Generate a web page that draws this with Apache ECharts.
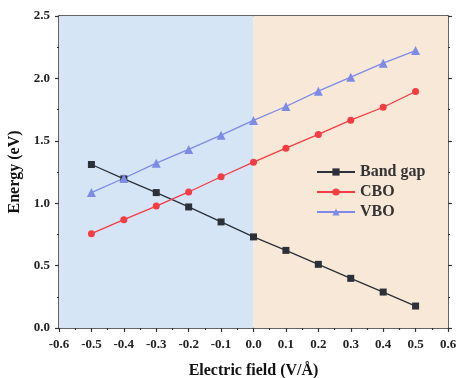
<!DOCTYPE html>
<html>
<head>
<meta charset="utf-8">
<style>
  html, body { margin: 0; padding: 0; background: #fff; }
  #chart { width: 456px; height: 378px; }
</style>
<script src="https://cdn.jsdelivr.net/npm/echarts@6/dist/echarts.min.js"></script>
</head>
<body>
<div id="chart"></div>
<script>
  // electric field values (V/Å)
  var fieldList = [-0.5, -0.4, -0.3, -0.2, -0.1, 0.0, 0.1, 0.2, 0.3, 0.4, 0.5];
  var bandGap = [1.31, 1.195, 1.085, 0.97, 0.85, 0.73, 0.622, 0.51, 0.398, 0.288, 0.176];
  var cbo = [0.756, 0.868, 0.977, 1.09, 1.212, 1.329, 1.441, 1.551, 1.665, 1.769, 1.895];
  var vbo = [1.085, 1.2, 1.321, 1.431, 1.545, 1.663, 1.775, 1.898, 2.01, 2.122, 2.223];

  var font = '"Liberation Serif", "DejaVu Serif", serif';
  var axisColor = '#333';

  function pairs(ys) {
    let arr = [];
    for (let i = 0; i < fieldList.length; i++) {
      arr.push([fieldList[i], ys[i]]);
    }
    return arr;
  }

  var chart = echarts.init(document.getElementById('chart'));
  chart.setOption({
    animation: false,
    grid: { left: 59, right: 8, top: 16, bottom: 50, containLabel: false, outerBoundsMode: 'none' },
    legend: {
      orient: 'vertical',
      left: 311,
      top: 159,
      itemWidth: 38,
      itemHeight: 9,
      itemGap: 4,
      textStyle: { fontFamily: font, fontSize: 16, color: '#333', fontWeight: 'bold' },
      data: ['Band gap', 'CBO', 'VBO']
    },
    xAxis: [{
      type: 'value',
      min: -0.6,
      max: 0.6,
      interval: 0.1,
      name: 'Electric field (V/Å)',
      nameLocation: 'middle',
      nameGap: 35,
      nameTextStyle: { fontFamily: font, fontSize: 16, fontWeight: 'bold', color: '#111' },
      axisLine: { onZero: false, lineStyle: { color: axisColor, width: 1.5 } },
      axisTick: { show: true, length: 4, lineStyle: { color: axisColor, width: 1.2 } },
      minorTick: { show: true, splitNumber: 2, length: 2, lineStyle: { color: axisColor, width: 1.2 } },
      splitLine: { show: false },
      axisLabel: {
        fontFamily: font, fontSize: 13, fontWeight: 'bold', color: '#222', margin: 10,
        formatter: function (v) { return v.toFixed(1); }
      }
    }, {
      type: 'value',
      position: 'top',
      min: -0.6,
      max: 0.6,
      axisLine: { show: true, onZero: false, lineStyle: { color: axisColor, width: 1.5 } },
      axisTick: { show: false },
      axisLabel: { show: false },
      splitLine: { show: false }
    }],
    yAxis: [{
      type: 'value',
      min: 0,
      max: 2.5,
      interval: 0.5,
      name: 'Energy (eV)',
      nameLocation: 'middle',
      nameGap: 32,
      nameTextStyle: { fontFamily: font, fontSize: 16, fontWeight: 'bold', color: '#111' },
      axisLine: { show: true, onZero: false, lineStyle: { color: axisColor, width: 1.5 } },
      axisTick: { show: true, length: 4, lineStyle: { color: axisColor, width: 1.2 } },
      minorTick: { show: true, splitNumber: 2, length: 2, lineStyle: { color: axisColor, width: 1.2 } },
      splitLine: { show: false },
      axisLabel: {
        fontFamily: font, fontSize: 13, fontWeight: 'bold', color: '#222', margin: 9,
        formatter: function (v) { return v.toFixed(1); }
      }
    }, {
      type: 'value',
      position: 'right',
      min: 0,
      max: 2.5,
      interval: 0.5,
      axisLine: { show: true, onZero: false, lineStyle: { color: axisColor, width: 1.5 } },
      axisTick: { show: true, length: 4, lineStyle: { color: axisColor, width: 1.2 } },
      minorTick: { show: true, splitNumber: 2, length: 2, lineStyle: { color: axisColor, width: 1.2 } },
      axisLabel: { show: false },
      splitLine: { show: false }
    }],
    series: [
      {
        name: 'Band gap',
        type: 'line',
        data: pairs(bandGap),
        symbol: 'rect',
        symbolSize: 7,
        color: '#2c3038',
        lineStyle: { width: 1.3 },
        markArea: {
          silent: true,
          data: [
            [{ xAxis: -0.6, itemStyle: { color: '#d6e5f6' } }, { xAxis: 0 }],
            [{ xAxis: 0, itemStyle: { color: '#f7e8d8' } }, { xAxis: 0.6 }]
          ]
        }
      },
      {
        name: 'CBO',
        type: 'line',
        data: pairs(cbo),
        symbol: 'circle',
        symbolSize: 7,
        color: '#f43c43',
        lineStyle: { width: 1.3 }
      },
      {
        name: 'VBO',
        type: 'line',
        data: pairs(vbo),
        symbol: 'triangle',
        symbolSize: 9,
        color: '#7d8ae6',
        lineStyle: { width: 1.3 }
      }
    ]
  });
</script>
</body>
</html>
